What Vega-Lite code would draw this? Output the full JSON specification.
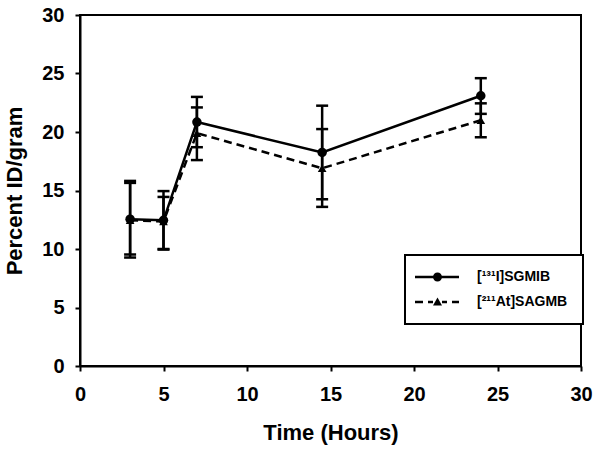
{
  "$schema": "https://vega.github.io/schema/vega-lite/v6.json",
  "width": 501,
  "height": 351,
  "autosize": {"type": "none"},
  "padding": {"left": 80, "top": 15, "right": 19, "bottom": 87},
  "background": "white",
  "config": {
    "view": {"stroke": "black", "strokeWidth": 2},
    "font": "Liberation Sans",
    "legend": {"strokeWidth": 2},
    "axis": {
      "grid": false,
      "domainColor": "black",
      "domainWidth": 2,
      "tickColor": "black",
      "tickWidth": 2,
      "tickSize": 5,
      "labelFont": "Liberation Sans",
      "labelFontWeight": "bold",
      "labelFontSize": 20,
      "labelColor": "black",
      "titleFont": "Liberation Sans",
      "titleFontWeight": "bold",
      "titleFontSize": 22,
      "titleColor": "black"
    }
  },
  "data": {
    "values": [
      {"series": "I131", "t": 3, "y": 12.55, "lo": 9.27, "hi": 15.82},
      {"series": "I131", "t": 5, "y": 12.45, "lo": 10.0, "hi": 14.95},
      {"series": "I131", "t": 7, "y": 20.85, "lo": 18.7, "hi": 23.0},
      {"series": "I131", "t": 14.5, "y": 18.25, "lo": 14.25, "hi": 22.25},
      {"series": "I131", "t": 24, "y": 23.1, "lo": 21.55, "hi": 24.6},
      {"series": "At211", "t": 3, "y": 12.45, "lo": 9.53, "hi": 15.65},
      {"series": "At211", "t": 5, "y": 12.35, "lo": 9.95, "hi": 14.45},
      {"series": "At211", "t": 7, "y": 19.9, "lo": 17.6, "hi": 22.1},
      {"series": "At211", "t": 14.5, "y": 16.9, "lo": 13.6, "hi": 20.25},
      {"series": "At211", "t": 24, "y": 21.0, "lo": 19.55, "hi": 22.45}
    ]
  },
  "encoding": {
    "x": {
      "field": "t", "type": "quantitative",
      "scale": {"domain": [0, 30], "nice": false},
      "axis": {"values": [0, 5, 10, 15, 20, 25, 30], "title": "Time (Hours)", "labelPadding": 13, "titlePadding": 18, "labelFlush": false}
    }
  },
  "layer": [
    {
      "mark": {"type": "rule", "color": "black", "strokeWidth": 2.5},
      "encoding": {
        "y": {"field": "lo", "type": "quantitative", "scale": {"domain": [0, 30], "nice": false},
              "axis": {"values": [0, 5, 10, 15, 20, 25, 30], "title": "Percent ID/gram", "labelPadding": 11, "titlePadding": 15, "labelFlush": false}},
        "y2": {"field": "hi"}
      }
    },
    {
      "mark": {"type": "tick", "orient": "horizontal", "color": "black", "size": 12, "thickness": 2.5, "opacity": 1},
      "encoding": {"y": {"field": "lo", "type": "quantitative"}}
    },
    {
      "mark": {"type": "tick", "orient": "horizontal", "color": "black", "size": 12, "thickness": 2.5, "opacity": 1},
      "encoding": {"y": {"field": "hi", "type": "quantitative"}}
    },
    {
      "transform": [{"filter": "datum.series == 'I131'"}],
      "mark": {"type": "line", "color": "black", "strokeWidth": 2.5},
      "encoding": {"y": {"field": "y", "type": "quantitative"}}
    },
    {
      "transform": [{"filter": "datum.series == 'At211'"}],
      "mark": {"type": "line", "color": "black", "strokeWidth": 2.5, "strokeDash": [8, 5]},
      "encoding": {"y": {"field": "y", "type": "quantitative"}}
    },
    {
      "transform": [{"filter": "datum.series == 'I131'"}],
      "mark": {"type": "point", "shape": "circle", "filled": true, "color": "black", "size": 90, "opacity": 1},
      "encoding": {"y": {"field": "y", "type": "quantitative"}}
    },
    {
      "transform": [{"filter": "datum.series == 'At211'"}],
      "mark": {"type": "point", "shape": "triangle-up", "filled": true, "color": "black", "size": 75, "opacity": 1},
      "encoding": {"y": {"field": "y", "type": "quantitative"}}
    },
    {
      "mark": {"type": "point", "filled": true, "fill": "black", "size": 100, "opacity": 0},
      "encoding": {
        "y": {"field": "y", "type": "quantitative"},
        "shape": {
          "field": "series", "type": "nominal",
          "scale": {
            "domain": ["I131", "At211"],
            "range": [
              "M-2.4,-0.25H1.3V0.25H-2.4ZM2.9,-0.25H6.4V0.25H2.9ZM3.0,0A0.9,0.9 0 1,1 1.2,0A0.9,0.9 0 1,1 3.0,0Z",
              "M-2.4,-0.25H-0.8V0.25H-2.4ZM0.2,-0.25H1.2V0.25H0.2ZM3.0,-0.25H4.0V0.25H3.0ZM5.0,-0.25H6.4V0.25H5.0ZM1.2,0.7L2.1,-0.9L3.0,0.7Z"
            ]
          },
          "legend": {
            "title": null,
            "orient": "none",
            "legendX": 325,
            "legendY": 240,
            "padding": 15,
            "strokeColor": "black",
            "fillColor": "white",
            "cornerRadius": 0,
            "symbolSize": 100,
            "symbolFillColor": "black",
            "symbolOpacity": 1,
            "labelOffset": 43,
            "labelExpr": "datum.value == 'I131' ? '[¹³¹I]SGMIB' : '[²¹¹At]SAGMB'",
            "labelFont": "Liberation Sans",
            "labelFontWeight": "bold",
            "labelFontSize": 14,
            "labelColor": "black",
            "labelLimit": 300,
            "rowPadding": 9,
            "encode": {
              "legend": {"update": {"strokeWidth": {"value": 2}}},
              "symbols": {"update": {"strokeWidth": {"value": 0}, "fill": {"value": "black"}, "fillOpacity": {"value": 1}, "opacity": {"value": 1}}}
            }
          }
        }
      }
    }
  ]
}
